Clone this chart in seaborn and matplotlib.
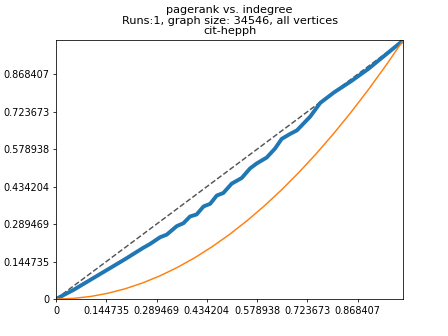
import matplotlib
matplotlib.use("Agg")
import matplotlib.pyplot as plt
import seaborn as sns
import pandas as pd

# cumulative share curves
pr_x = [0, 0.05, 0.10, 0.15, 0.20, 0.25, 0.271, 0.300, 0.319, 0.348, 0.367, 0.386, 0.405,
        0.425, 0.444, 0.463, 0.482, 0.506, 0.535, 0.559, 0.578, 0.607, 0.631, 0.650, 0.674,
        0.694, 0.732, 0.761, 0.80, 0.85, 0.90, 0.95, 1.0]
pr_y = [0, 0.035, 0.075, 0.115, 0.155, 0.197, 0.213, 0.239, 0.249, 0.282, 0.293, 0.319,
        0.327, 0.358, 0.368, 0.400, 0.410, 0.446, 0.468, 0.505, 0.524, 0.547, 0.582, 0.619,
        0.638, 0.652, 0.705, 0.758, 0.798, 0.842, 0.890, 0.945, 1.0]

deg_x = [0, 0.05, 0.1, 0.15, 0.2, 0.25, 0.3, 0.35, 0.4, 0.45, 0.5, 0.55, 0.6, 0.65, 0.7,
         0.75, 0.8, 0.85, 0.9, 0.95, 1.0]
deg_y = [0, 0.0025, 0.01, 0.0225, 0.04, 0.0625, 0.09, 0.1225, 0.16, 0.2025, 0.25, 0.3025,
         0.36, 0.4225, 0.49, 0.5625, 0.64, 0.7225, 0.81, 0.9025, 1.0]

diag = [0, 1]

tick_labels = ["0", "0.144735", "0.289469", "0.434204", "0.578938", "0.723673", "0.868407"]
tick_values = [float(t) for t in tick_labels]

pr = pd.DataFrame({"x": pr_x, "y": pr_y})
deg = pd.DataFrame({"x": deg_x, "y": deg_y})

fig, ax = plt.subplots(figsize=(6.4, 4.8), dpi=70)
ax.plot(diag, diag, "--", color="#555555", lw=1.5)
sns.lineplot(data=pr, x="x", y="y", ax=ax, color="C0", lw=4, sort=False)
sns.lineplot(data=deg, x="x", y="y", ax=ax, color="C1", lw=1.5, sort=False)

ax.set_xlim(0, 1)
ax.set_ylim(0, 1)
ax.set_xticks(tick_values)
ax.set_xticklabels(tick_labels)
ax.set_yticks(tick_values)
ax.set_yticklabels(tick_labels)
ax.set_xlabel("")
ax.set_ylabel("")
ax.set_title("pagerank vs. indegree\nRuns:1, graph size: 34546, all vertices\ncit-hepph",
             fontsize=11.6, linespacing=1.12)

fig.savefig("out.png", dpi=70)
